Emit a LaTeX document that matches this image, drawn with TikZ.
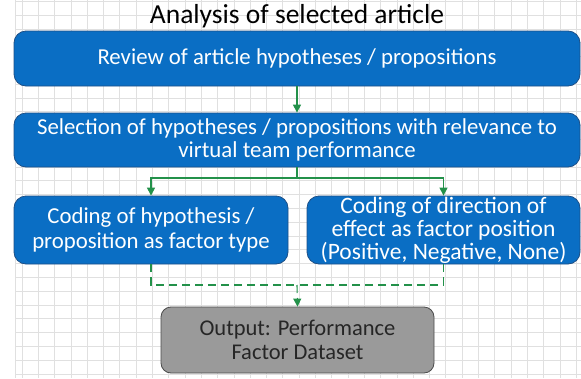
\documentclass[tikz,border=0pt]{standalone}
\usepackage{fontspec}
\setmainfont{Carlito}
\usetikzlibrary{arrows.meta}
\definecolor{boxblue}{HTML}{0A6EC4}
\definecolor{boxedge}{HTML}{1D4F86}
\definecolor{arrgreen}{HTML}{23914A}
\definecolor{gridgray}{HTML}{E0E0E0}
\definecolor{outgray}{HTML}{9A9A9A}
\begin{document}
\begin{tikzpicture}[x=1pt,y=-1pt,
  bluebox/.style={draw=boxedge,line width=0.8pt,fill=boxblue,rounded corners=12pt,text=white,align=center,font=\fontsize{22.8}{23}\selectfont,inner sep=0pt},
  graybox/.style={draw=black!70,line width=0.8pt,fill=outgray,rounded corners=10pt,text=black!85,align=center,font=\fontsize{22.5}{24}\selectfont,inner sep=0pt},
  gridline/.style={draw=gridgray,line width=0.7pt},
  conn/.style={draw=arrgreen,line width=1.1pt,-{Triangle[length=8pt,width=8pt]}},
  link/.style={draw=arrgreen,line width=1.1pt},
  dconn/.style={draw=arrgreen,line width=1.1pt,dashed,dash pattern=on 8pt off 5pt}]
\useasboundingbox (0,0) rectangle (581,378);
\fill[white] (0,0) rectangle (581,378);
\foreach \i in {0,...,34} {\draw[gridline] ({22+16.3*\i},0) -- ({22+16.3*\i},378);}
\foreach \j in {0,...,27} {\draw[gridline] (15,{1.3+13.8*\j}) -- (581,{1.3+13.8*\j});}
\draw[gridline] (15,0) -- (15,378);
\node[font=\fontsize{27.5}{30}\selectfont] (title) at (297,16) {Analysis of selected article};
\node[bluebox,minimum width=566pt,minimum height=55pt] (review) at (297,58.5) {Review of article hypotheses / propositions};
\node[bluebox,minimum width=566pt,minimum height=54pt] (select) at (297,140) {Selection of hypotheses / propositions with relevance to\\virtual team performance};
\node[bluebox,minimum width=274pt,minimum height=68pt,font=\fontsize{22.8}{25}\selectfont] (type) at (151,230) {Coding of hypothesis /\\proposition as factor type};
\node[bluebox,minimum width=273pt,minimum height=68pt,font=\fontsize{23.5}{23}\selectfont] (dir) at (443.5,230) {Coding of direction of\\effect as factor position\\(Positive, Negative, None)};
\node[graybox,minimum width=273pt,minimum height=66pt] (out) at (297.5,340) {Output: Performance\\Factor Dataset};
\coordinate (split) at (297,178);
\coordinate (merge) at (297,285);
\draw[conn] (review.south) -- (select.north);
\draw[link] (select.south) -- (split);
\draw[conn] (split) -| (type.north);
\draw[conn] (split) -| (dir.north);
\draw[dconn] (type.south) |- (merge);
\draw[dconn] (dir.south) |- (merge);
\draw[dconn,-{Triangle[length=8pt,width=8pt]}] (merge) -- (out.north);
\end{tikzpicture}
\end{document}
